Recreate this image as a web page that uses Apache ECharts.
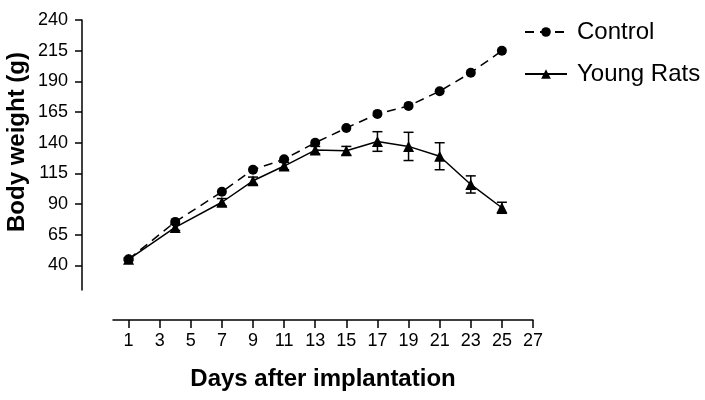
<!DOCTYPE html>
<html>
<head>
<meta charset="utf-8">
<script src="https://cdn.jsdelivr.net/npm/echarts@6/dist/echarts.min.js"></script>
<style>
html,body{margin:0;padding:0;background:#fff;}
#chart{width:705px;height:400px;}
</style>
</head>
<body>
<div id="chart"></div>
<script>
var days = [1, 4, 7, 9, 11, 13, 15, 17, 19, 21, 23, 25];
var controlWeight = [45, 75.5, 100, 118, 126.5, 140, 152, 163.5, 170, 182, 197, 215];
var youngWeight = [45, 71, 91.5, 109, 121, 134, 133.5, 141, 137, 129, 106, 87];
var youngError = [1, 2.5, 3, 3, 3, 3, 3.5, 8, 11.5, 11, 7, 4.5];
var yTicks = [40, 65, 90, 115, 140, 165, 190, 215, 240];
var xTicks = [1, 3, 5, 7, 9, 11, 13, 15, 17, 19, 21, 23, 25, 27];

var chart = echarts.init(document.getElementById('chart'));
var font = 'Liberation Sans, Arial, sans-serif';

function pairs(xs, ys) { return xs.map(function (x, i) { return [x, ys[i]]; }); }
var errData = days.map(function (d, i) { return [d, youngWeight[i] - youngError[i], youngWeight[i] + youngError[i]]; });

chart.setOption({
  animation: false,
  backgroundColor: '#fff',
  grid: { left: 113, right: 172, top: 20, bottom: 110 },
  xAxis: {
    type: 'value', min: 0, max: 27, offset: 30,
    axisLine: { show: true, onZero: false, lineStyle: { color: '#000', width: 1.5 } },
    axisTick: { show: true, customValues: xTicks, length: 8, lineStyle: { color: '#000', width: 1.5 } },
    axisLabel: { customValues: xTicks, margin: 12, color: '#000', fontSize: 18, fontFamily: font },
    splitLine: { show: false }
  },
  yAxis: {
    type: 'value', min: 20, max: 240, offset: 31,
    axisLine: { show: true, onZero: false, lineStyle: { color: '#000', width: 1.5 } },
    axisTick: { show: true, customValues: yTicks, length: 7, lineStyle: { color: '#000', width: 1.5 } },
    axisLabel: { customValues: yTicks, margin: 14, color: '#000', fontSize: 18, fontFamily: font },
    splitLine: { show: false }
  },
  legend: {
    orient: 'vertical', left: 519, top: 15, itemGap: 18,
    itemWidth: 42, itemHeight: 12,
    data: ['Control', 'Young Rats'],
    textStyle: { color: '#000', fontSize: 24, fontFamily: font, padding: [0, 0, 0, 5] }
  },
  graphic: [
    { type: 'text', x: 17, y: 142, rotation: Math.PI / 2,
      style: { text: 'Body weight (g)', fill: '#000', font: 'bold 24px ' + font, textAlign: 'center', textVerticalAlign: 'middle' } },
    { type: 'text', x: 323, y: 379,
      style: { text: 'Days after implantation', fill: '#000', font: 'bold 24px ' + font, textAlign: 'center', textVerticalAlign: 'middle' } }
  ],
  series: [
    {
      name: 'Control', type: 'line', data: pairs(days, controlWeight),
      symbol: 'circle', symbolSize: 10,
      itemStyle: { color: '#000' },
      lineStyle: { color: '#000', width: 1.5, type: [9, 6] }
    },
    {
      name: 'Young Rats', type: 'line', data: pairs(days, youngWeight),
      symbol: 'triangle', symbolSize: 11,
      itemStyle: { color: '#000' },
      lineStyle: { color: '#000', width: 1.5 }
    },
    {
      name: 'err', type: 'custom', data: errData,
      renderItem: function (params, api) {
        var x = api.value(0);
        var lo = api.coord([x, api.value(1)]);
        var hi = api.coord([x, api.value(2)]);
        var w = 5;
        var st = { stroke: '#000', lineWidth: 1.5, fill: null };
        return { type: 'group', children: [
          { type: 'line', shape: { x1: lo[0], y1: lo[1], x2: hi[0], y2: hi[1] }, style: st },
          { type: 'line', shape: { x1: lo[0] - w, y1: lo[1], x2: lo[0] + w, y2: lo[1] }, style: st },
          { type: 'line', shape: { x1: hi[0] - w, y1: hi[1], x2: hi[0] + w, y2: hi[1] }, style: st }
        ]};
      },
      z: 1
    }
  ]
});
</script>
</body>
</html>
